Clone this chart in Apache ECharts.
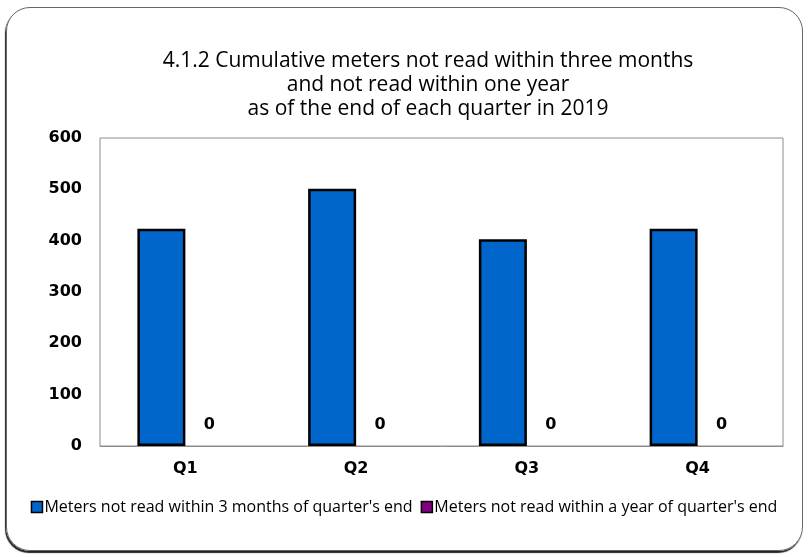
<!DOCTYPE html>
<html>
<head>
<meta charset="utf-8">
<script src="https://cdn.jsdelivr.net/npm/echarts@6/dist/echarts.min.js"></script>
<style>
  html, body { margin: 0; padding: 0; background: #fff; }
  #frame {
    position: absolute; left: 6px; top: 7px; width: 797px; height: 544px;
    border: 1px solid #666; border-radius: 24px; box-sizing: border-box;
    box-shadow: -1px 2px 1px #222;
  }
  #chart { position: absolute; left: 0; top: 0; width: 808px; height: 557px; }
</style>
</head>
<body>
<div id="frame"></div>
<div id="chart"></div>
<script>
// Quarterly meter counts for 2019
const quarters = ['Q1', 'Q2', 'Q3', 'Q4'];
const notRead3Months = [423, 501, 403, 423];
const notReadOneYear = [0, 0, 0, 0];
const yTicks = { min: 0, max: 600, step: 100 };

const titleText = '4.1.2 Cumulative meters not read within three months\nand not read within one year\nas of the end of each quarter in 2019';
const seriesNames = [
  "Meters not read within 3 months of quarter's end",
  "Meters not read within a year of quarter's end"
];

const textFont = 'Open Sans';
const numFont = 'DejaVu Sans';
const chart = echarts.init(document.getElementById('chart'));
chart.setOption({
  backgroundColor: 'transparent',
  animation: false,
  // Title block, centred over the chart body
  graphic: [{
    type: 'text',
    x: 428,
    y: 49,
    style: {
      text: titleText,
      textAlign: 'center',
      textVerticalAlign: 'top',
      font: 'normal 21px "Open Sans"',
      lineHeight: 24,
      fill: '#000'
    }
  }],
  legend: {
    bottom: 37,
    left: 'center',
    itemWidth: 11,
    itemHeight: 11,
    itemGap: 8,
    icon: 'rect',
    textStyle: { fontFamily: textFont, fontSize: 16, color: '#000', padding: [0, 0, 0, -3] },
    data: seriesNames.map(n => ({ name: n, itemStyle: { borderColor: '#000', borderWidth: 1.5 } }))
  },
  grid: {
    left: 100, right: 25, top: 138, bottom: 111,
    show: true, borderColor: '#8c8c8c', borderWidth: 1
  },
  xAxis: {
    type: 'category',
    data: quarters,
    axisTick: { show: false },
    axisLine: { lineStyle: { color: '#8c8c8c' } },
    axisLabel: { fontFamily: numFont, fontSize: 16, fontWeight: 'bold', color: '#000', margin: 15 }
  },
  yAxis: {
    type: 'value',
    min: yTicks.min, max: yTicks.max, interval: yTicks.step,
    splitLine: { show: false },
    axisLine: { show: false },
    axisTick: { show: false },
    axisLabel: { fontFamily: numFont, fontSize: 16, fontWeight: 'bold', color: '#000', margin: 18 }
  },
  series: [
    {
      name: seriesNames[0],
      type: 'bar',
      data: notRead3Months,
      barWidth: 48,
      barGap: '0%',
      itemStyle: { color: '#0066CC', borderColor: '#000', borderWidth: 2.5 }
    },
    {
      name: seriesNames[1],
      type: 'bar',
      data: notReadOneYear,
      barWidth: 48,
      itemStyle: { color: '#800080', borderColor: '#000', borderWidth: 0 },
      label: {
        show: true, position: 'top', distance: 13,
        fontFamily: numFont, fontSize: 16, fontWeight: 'bold', color: '#000'
      }
    }
  ]
});
</script>
</body>
</html>
